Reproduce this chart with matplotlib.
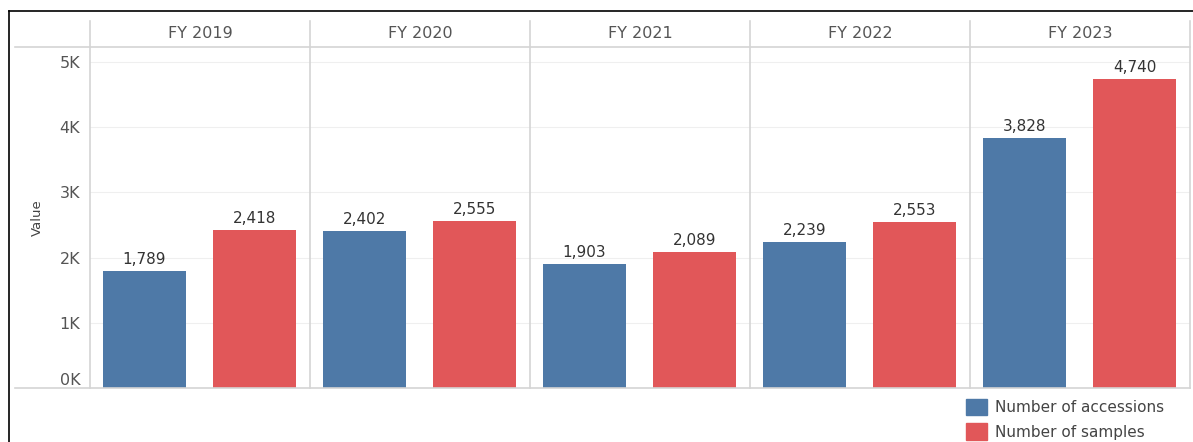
import numpy as np
import matplotlib.pyplot as plt
from matplotlib.lines import Line2D
from matplotlib.patches import Patch

plt.rcParams['font.family'] = ['DejaVu Sans']

# data
years = ['FY 2019', 'FY 2020', 'FY 2021', 'FY 2022', 'FY 2023']
accessions = [1789, 2402, 1903, 2239, 3828]
samples = [2418, 2555, 2089, 2553, 4740]
yticks = [0, 1000, 2000, 3000, 4000, 5000]
ytick_labels = ['0K', '1K', '2K', '3K', '4K', '5K']

blue = '#4E79A7'
red = '#E15759'
grey_line = '#d4d4d4'
txt = '#555555'

W, H = 1193, 442
fig = plt.figure(figsize=(W / 100, H / 100), dpi=100)

def fx(px):
    return px / W

def fy(py):
    return 1 - py / H

# plot area: x 90..1190, y 47..388 (pixels)
ax = fig.add_axes([fx(90), fy(388), fx(1190) - fx(90), fy(47) - fy(388)])
ax.set_xlim(0, 5)
ax.set_ylim(0, 5230)

x = np.arange(len(years))
bw = 83 / 220
ax.bar(x + 54.5 / 220, accessions, width=bw, color=blue, zorder=3)
ax.bar(x + 164.5 / 220, samples, width=bw, color=red, zorder=3)

for i in range(len(years)):
    ax.text(x[i] + 54.5 / 220, accessions[i] + 60, f'{accessions[i]:,}',
            ha='center', va='bottom', fontsize=11, color='#333333')
    ax.text(x[i] + 164.5 / 220, samples[i] + 60, f'{samples[i]:,}',
            ha='center', va='bottom', fontsize=11, color='#333333')

# gridlines
for v in yticks[1:]:
    ax.axhline(v, color='#efefef', lw=0.8, zorder=1)

for s in ax.spines.values():
    s.set_visible(False)
ax.set_xticks([])
ax.set_yticks(yticks)
ax.set_yticklabels(ytick_labels, fontsize=11.5, color=txt)
ax.get_yticklabels()[0].set_va('bottom')
ax.tick_params(axis='y', length=0, pad=7)
ax.set_ylabel('Value', fontsize=9.5, color='#444444')
ax.yaxis.set_label_coords((44 - 90) / 1100, 0.5)

# panel separators and header lines (figure coordinates)
for px in [90, 310, 530, 750, 970, 1190]:
    fig.add_artist(Line2D([fx(px), fx(px)], [fy(21), fy(388)], color=grey_line, lw=1.2))
for py in [47, 388]:
    fig.add_artist(Line2D([fx(15), fx(1190)], [fy(py), fy(py)], color=grey_line, lw=1.2))

for i, yr in enumerate(years):
    fig.text(fx(90 + 220 * i + 110), fy(33), yr, ha='center', va='center',
             fontsize=11.5, color=txt)

# outer black frame (top and left)
fig.add_artist(Line2D([fx(9), 1], [fy(11), fy(11)], color='black', lw=1.2))
fig.add_artist(Line2D([fx(9), fx(9)], [fy(11), 0], color='black', lw=1.2))

# legend
handles = [Patch(color=blue, label='Number of accessions'),
           Patch(color=red, label='Number of samples')]
fig.legend(handles=handles, loc='upper left', bbox_to_anchor=(fx(952), fy(385)),
           frameon=False, fontsize=11, handlelength=1.4, handleheight=1.25,
           handletextpad=0.5, labelspacing=0.55, labelcolor='#444444')

fig.savefig('out.png', dpi=100)
